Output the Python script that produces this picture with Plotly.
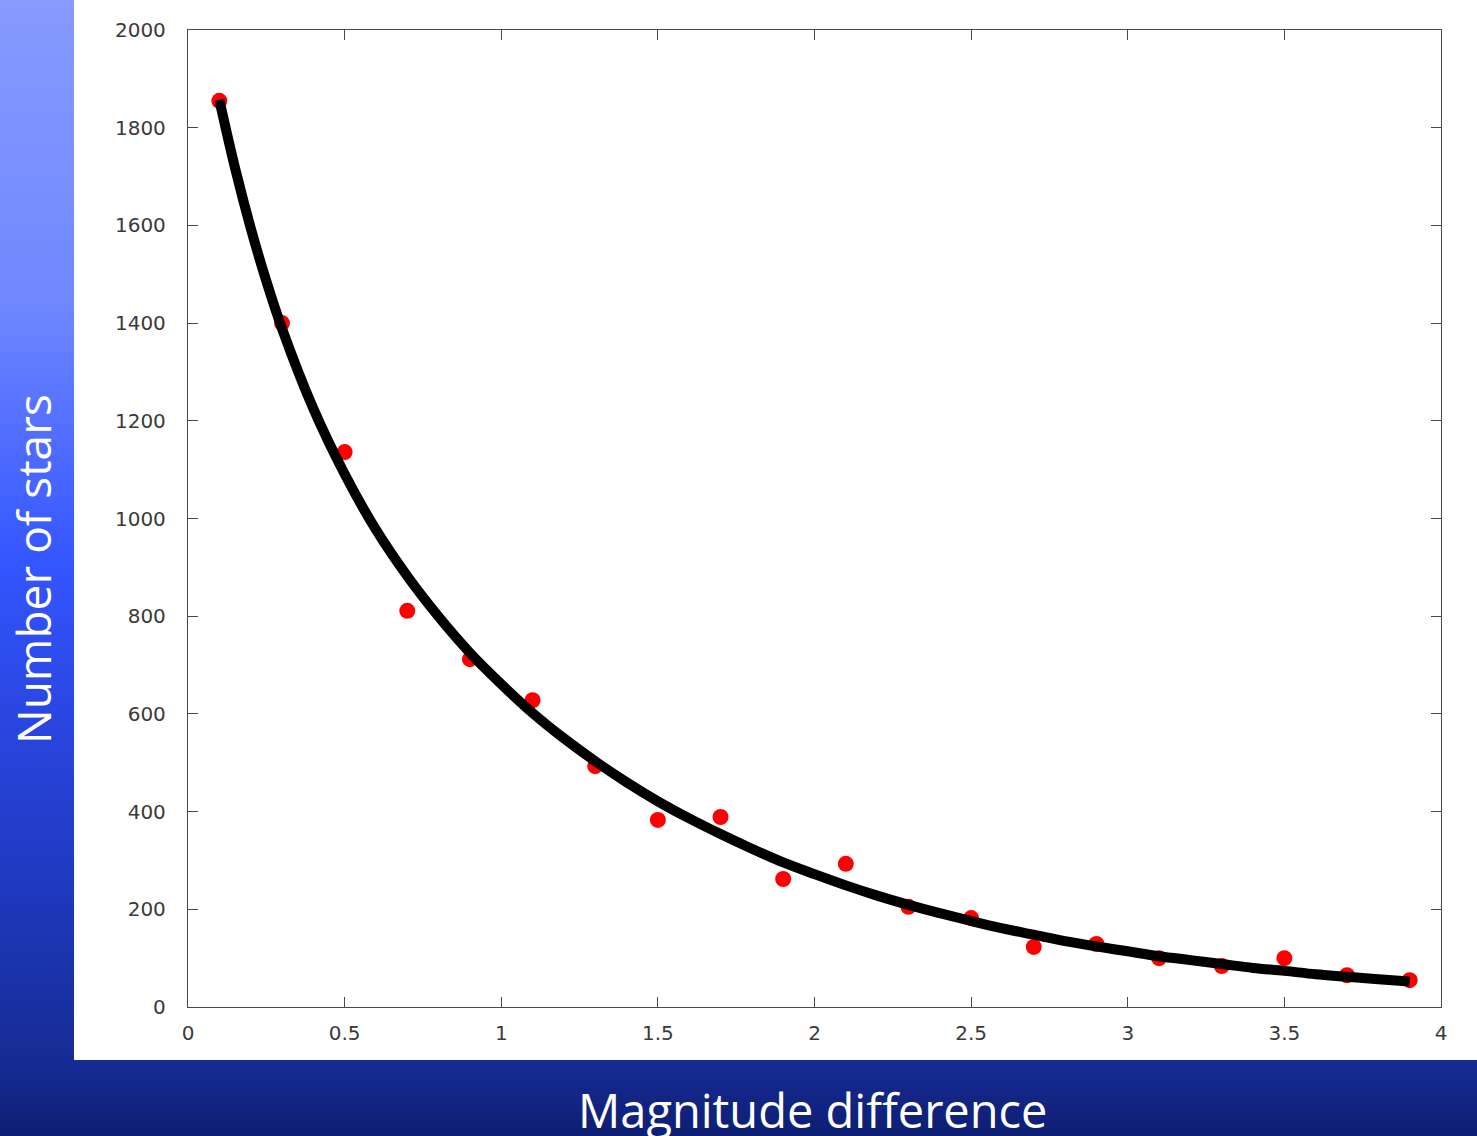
import plotly.graph_objects as go

# ---------------- data ----------------
obs_x = [0.1, 0.3, 0.5, 0.7, 0.9, 1.1, 1.3, 1.5, 1.7, 1.9,
         2.1, 2.3, 2.5, 2.7, 2.9, 3.1, 3.3, 3.5, 3.7, 3.9]
obs_y = [1855, 1400, 1136, 811, 712, 628, 493, 383, 389, 262,
         293, 205, 182, 123, 129, 100, 84, 100, 65, 55]

fit_x = [0.1, 0.15, 0.2, 0.25, 0.3, 0.4, 0.5, 0.6, 0.7, 0.8, 0.9, 1.0,
         1.1, 1.2, 1.3, 1.4, 1.5, 1.6, 1.7, 1.8, 1.9, 2.0,
         2.1, 2.2, 2.3, 2.4, 2.5, 2.6, 2.7, 2.8, 2.9, 3.0,
         3.1, 3.2, 3.3, 3.4, 3.5, 3.6, 3.7, 3.8, 3.9]
fit_y = [1857, 1718, 1595, 1486, 1389, 1225, 1091, 977, 882, 799, 725, 661,
         602, 550, 503, 460, 421, 386, 354, 324, 296, 272,
         249, 228, 209, 192, 176, 161, 148, 135, 124, 114,
         104, 96, 88, 80, 74, 67, 62, 57, 52]

x_ticks = [0, 0.5, 1, 1.5, 2, 2.5, 3, 3.5, 4]
x_tick_labels = ["0", "0.5", "1", "1.5", "2", "2.5", "3", "3.5", "4"]
y_ticks = [0, 200, 400, 600, 800, 1000, 1200, 1400, 1600, 1800, 2000]
y_tick_labels = [str(v) for v in y_ticks]

x_title = "Magnitude difference"
y_title = "Number of stars"

# ---------------- layout geometry (pixels) ----------------
W, H = 1477, 1136
PL, PR, PT, PB = 188, 1441, 30, 1007


def px_x(p):
    return (p - PL) / (PR - PL)


def px_y(p):
    return (PB - p) / (PB - PT)


# background gradient stops (pixel y, rgb)
stops = [(0, (134, 154, 255)), (300, (112, 136, 255)), (560, (52, 86, 255)),
         (720, (42, 70, 225)), (900, (30, 56, 188)), (1060, (22, 44, 148)),
         (1136, (14, 30, 116))]


def col_at(y):
    for (y0, c0), (y1, c1) in zip(stops[:-1], stops[1:]):
        if y0 <= y <= y1:
            t = (y - y0) / (y1 - y0)
            return "rgb(%d,%d,%d)" % tuple(round(a + (b - a) * t) for a, b in zip(c0, c1))
    return "rgb(%d,%d,%d)" % stops[-1][1]


shapes = []
band = 8
for y0 in range(0, H, band):
    y1 = min(H, y0 + band)
    c = col_at((y0 + y1) / 2)
    shapes.append(dict(type="rect", xref="paper", yref="paper",
                       x0=px_x(0), x1=px_x(74), y0=px_y(y1 + 0.5), y1=px_y(y0),
                       fillcolor=c, line=dict(width=0), layer="below"))
    if y1 > 1060:
        shapes.append(dict(type="rect", xref="paper", yref="paper",
                           x0=px_x(73), x1=px_x(W), y0=px_y(y1 + 0.5), y1=px_y(max(y0, 1060)),
                           fillcolor=c, line=dict(width=0), layer="below"))

fig = go.Figure()
fig.add_trace(go.Scatter(x=obs_x, y=obs_y, mode="markers",
                         marker=dict(color="#ff0000", size=16, symbol="circle",
                                     line=dict(width=0)),
                         showlegend=False))
fig.add_trace(go.Scatter(x=fit_x, y=fit_y, mode="lines",
                         line=dict(color="#000000", width=10, shape="spline", smoothing=1.0),
                         showlegend=False))

axis_common = dict(showline=True, linecolor="#4a4a4a", linewidth=1.3, mirror="ticks",
                   ticks="inside", ticklen=10, tickwidth=1.3, tickcolor="#4a4a4a",
                   showgrid=False, zeroline=False,
                   tickfont=dict(family="DejaVu Sans", size=20, color="#3a3a3a"))

fig.update_layout(
    width=W, height=H,
    margin=dict(l=PL, r=W - PR, t=PT, b=H - PB, pad=0),
    paper_bgcolor="white", plot_bgcolor="white",
    xaxis=dict(range=[0, 4], tickvals=x_ticks, ticktext=x_tick_labels,
               ticklabelstandoff=8, **axis_common),
    yaxis=dict(range=[0, 2000], tickvals=y_ticks, ticktext=y_tick_labels,
               ticklabelstandoff=17, **axis_common),
    shapes=shapes,
    annotations=[
        dict(text=x_title, xref="paper", yref="paper", x=px_x(813), y=px_y(1110),
             showarrow=False, xanchor="center", yanchor="middle",
             font=dict(family="Open Sans", size=47, color="white")),
        dict(text=y_title, xref="paper", yref="paper", x=px_x(33), y=px_y(569),
             showarrow=False, xanchor="center", yanchor="middle", textangle=-90,
             font=dict(family="Open Sans", size=46, color="white")),
    ],
)

fig.write_html("out.html")
